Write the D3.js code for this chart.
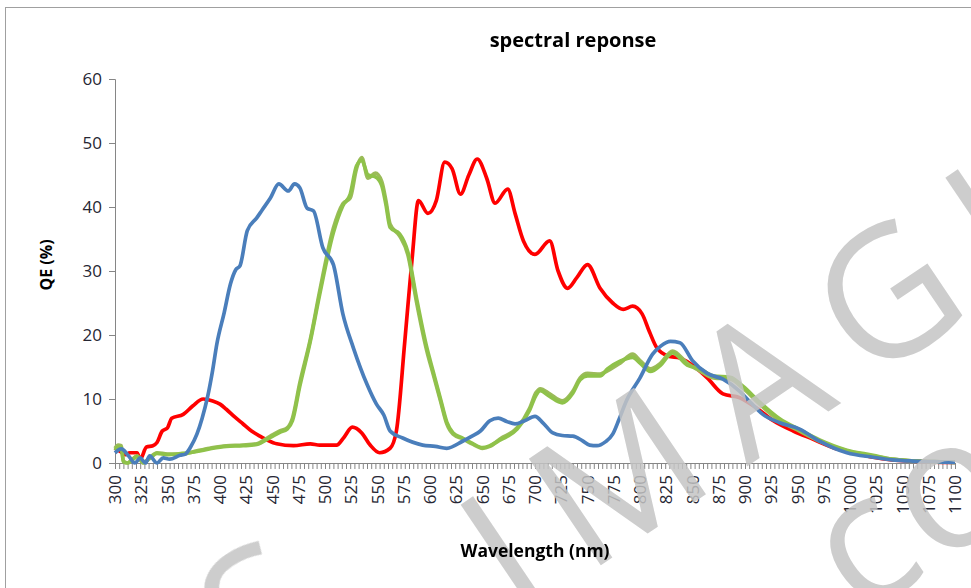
<!DOCTYPE html>
<html>
<head>
<meta charset="utf-8">
<script src="https://cdnjs.cloudflare.com/ajax/libs/d3/7.8.5/d3.min.js"></script>
<style>
    body { margin: 0; background: #fff; }
    #chart { width: 971px; height: 588px; }
    text { font-family: "Open Sans", sans-serif; }
</style>
</head>
<body>
<div id="chart"></div>
<script>
    // values (wavelength in nm, QE in %)
    const xTickLabels = [300, 325, 350, 375, 400, 425, 450, 475, 500, 525, 550, 575, 600, 625, 650, 675, 700,
        725, 750, 775, 800, 825, 850, 875, 900, 925, 950, 975, 1000, 1025, 1050, 1075, 1100];
    const yTickLabels = [0, 10, 20, 30, 40, 50, 60];

    const redNm = [300,305,310,314,321,324,330,336,340,345,350,354,365,374,384,393,400,406,414,422,
        430,438,446,454,470,486,495,511,518,526,535,543,552,562,568,576,583,589,598,606,
        614,621,629,637,645,654,662,674,681,689,700,714,722,731,740,750,762,774,784,793,
        802,809,816,827,838,848,864,879,895,911,927,946,965,984,1003,1022,1040,1060,1080,1100];
    const redQE = [2.3,1.8,1.3,1.6,1.6,0.6,2.5,2.7,3.2,5,5.5,7,7.6,8.9,10,9.7,9.2,8.4,7.2,6.1,
        5,4.2,3.5,3,2.7,3,2.8,2.8,4,5.6,4.7,2.8,1.6,2.3,5,19,32,41,39,41,
        47,46,42,45,47.5,44.5,40.6,42.8,39,34.7,32.6,34.7,30,27.3,29,31,27.3,25,24,24.5,
        23.3,20.5,18,16.7,16.4,15.5,13.3,10.8,10.2,8.6,6.6,5,3.7,2.4,1.6,0.9,0.5,0.3,0.15,0.1];

    const greenNm = [300,303,306,308,312,316,321,327,333,340,350,364,378,390,406,422,435,448,457,464,
        469,476,486,495,508,517,524,530,535,541,548,554,558,562,571,579,587,597,603,610,
        616,622,631,640,650,657,667,683,695,701,705,714,726,736,743,750,762,769,781,793,
        800,810,819,831,845,857,870,886,898,914,933,952,971,997,1022,1040,1060,1080,1100];
    const green1QE = [2.3,2.8,2.7,0.3,0,0.5,1.1,0,0.8,1.6,1.4,1.4,1.9,2.3,2.7,2.8,3,4.2,5,5.5,
        7,12.5,19.3,26.9,36.7,40.5,41.4,46,47.7,44.5,45.3,44,41,37.3,35.5,32.5,25.3,17.5,13.9,9.7,
        6.1,4.5,3.8,3,2.3,2.6,3.8,5.5,8.6,11,11.6,10.8,9.7,11.2,13.3,14,13.9,14.4,15.6,17,
        16,14.7,15.5,17.5,15.6,14.4,13.3,13.1,11.7,9.2,6.6,5,3.4,1.9,1.1,0.6,0.35,0.2,0.1];
    const green2QE = [2.0,2.5,2.4,0.2,0,0.4,1.0,0.1,0.7,1.5,1.3,1.5,1.8,2.2,2.6,2.7,2.9,4.0,4.8,5.3,
        6.6,12.0,19.0,26.4,36.0,40.2,42.0,46.4,47.3,45.0,44.7,43.4,40.4,36.8,35.8,32.9,25.9,18.0,14.3,10.0,
        6.4,4.7,3.9,3.1,2.4,2.7,3.6,5.3,8.3,10.6,11.3,10.4,9.4,10.9,13.0,13.6,13.6,14.7,15.9,16.5,
        15.6,14.3,15.2,17.2,15.3,14.7,13.6,13.4,12.0,9.5,6.9,5.2,3.6,2.0,1.2,0.6,0.35,0.2,0.1];

    const blueNm = [300,306,313,319,324,329,333,340,346,352,362,367,372,378,383,388,393,397,404,410,
        415,419,426,435,440,448,456,465,471,476,483,489,498,508,517,527,540,549,556,562,
        574,593,605,616,631,640,648,657,665,673,681,690,700,708,717,726,736,745,752,759,
        767,774,780,787,800,812,820,829,838,850,864,879,895,905,917,933,952,971,985,997,
        1022,1040,1060,1080,1100];
    const blueQE = [1.6,2.2,1.1,0,0.8,0,1.1,0,0.8,0.6,1.2,1.4,2.5,4.5,7,10.2,14.5,18.6,23.5,28,
        30.2,30.8,36.3,38.3,39.5,41.4,43.6,42.5,43.6,43,39.8,39.4,33.6,31,23.3,18,12.3,9.2,7.5,5,
        3.9,2.8,2.6,2.3,3.4,4.2,5,6.6,7,6.5,6.1,6.6,7.3,6.2,4.7,4.3,4.2,3.5,2.8,2.7,
        3.3,4.5,6.8,9.7,13.3,17,18.3,19,18.8,16,14,13.1,11.2,9.5,7.6,6.3,5.3,3.4,2.3,1.6,
        0.9,0.5,0.3,0.2,0.1];

    const series = [
        { nm: redNm, qe: redQE, color: "#ff0000" },
        { nm: greenNm, qe: green1QE, color: "#9bbb59" },
        { nm: greenNm, qe: green2QE, color: "#8fc24a" },
        { nm: blueNm, qe: blueQE, color: "#4a7ebb" }
    ];

    const width = 971, height = 588;
    const svg = d3.select("#chart").append("svg")
        .attr("width", width)
        .attr("height", height);

    // chart area border
    svg.append("rect")
        .attr("x", 5.5).attr("y", 7.5)
        .attr("width", 1000).attr("height", 600)
        .attr("fill", "#fff")
        .attr("stroke", "#a0a0a0");

    const x = d3.scaleLinear().domain([300, 1100]).range([115, 955]);
    const y = d3.scaleLinear().domain([0, 60]).range([463, 79]);

    // y axis
    const yAxis = svg.append("g")
        .attr("transform", "translate(115,0)")
        .call(d3.axisLeft(y).tickValues(yTickLabels).tickSize(6).tickPadding(7));
    yAxis.select(".domain").attr("stroke", "#868686");
    yAxis.selectAll(".tick line").attr("stroke", "#868686");
    yAxis.selectAll(".tick text")
        .attr("fill", "#262633")
        .style("font-size", "17px");

    // x axis with small ticks every 4 nm
    const xAxis = svg.append("g")
        .attr("transform", "translate(0,463)")
        .call(d3.axisBottom(x).tickValues(d3.range(300, 1101, 4)).tickSize(6).tickFormat(""));
    xAxis.select(".domain").attr("stroke", "#868686");
    xAxis.selectAll(".tick line").attr("stroke", "#868686");

    svg.append("g").selectAll("text")
        .data(xTickLabels)
        .join("text")
        .attr("transform", d => `translate(${x(d) + 6},475) rotate(-90)`)
        .attr("text-anchor", "end")
        .attr("fill", "#262633")
        .style("font-size", "17px")
        .text(d => d);

    const line = d3.line()
        .x(d => x(d[0]))
        .y(d => y(d[1]))
        .curve(d3.curveMonotoneX);

    svg.append("g").selectAll("path")
        .data(series)
        .join("path")
        .attr("d", s => line(s.nm.map((n, i) => [n, s.qe[i]])))
        .attr("fill", "none")
        .attr("stroke", s => s.color)
        .attr("stroke-width", 3.7)
        .attr("stroke-linejoin", "round");

    // watermark
    const mark = svg.append("g")
        .attr("fill", "#c4c4c4")
        .attr("opacity", 0.85)
        .style("font-size", "180px");
    mark.append("text").attr("transform", "translate(518,621) rotate(-34)")
        .style("letter-spacing", "32px").text("IMAGING");
    mark.append("text").attr("transform", "translate(296,664) rotate(-34)")
        .attr("text-anchor", "middle").text("S");
    mark.append("text").attr("transform", "translate(860,619) rotate(-34)")
        .style("letter-spacing", "5px").text("com");

    // titles
    svg.append("text")
        .attr("x", 573).attr("y", 47)
        .attr("text-anchor", "middle")
        .style("font-size", "20px").style("font-weight", "bold")
        .text("spectral reponse");

    svg.append("text")
        .attr("x", 535).attr("y", 557)
        .attr("text-anchor", "middle")
        .style("font-size", "17.5px").style("font-weight", "bold")
        .text("Wavelength (nm)");

    svg.append("text")
        .attr("transform", "translate(52,265) rotate(-90)")
        .attr("text-anchor", "middle")
        .style("font-size", "16px").style("font-weight", "bold")
        .text("QE (%)");
</script>
</body>
</html>
